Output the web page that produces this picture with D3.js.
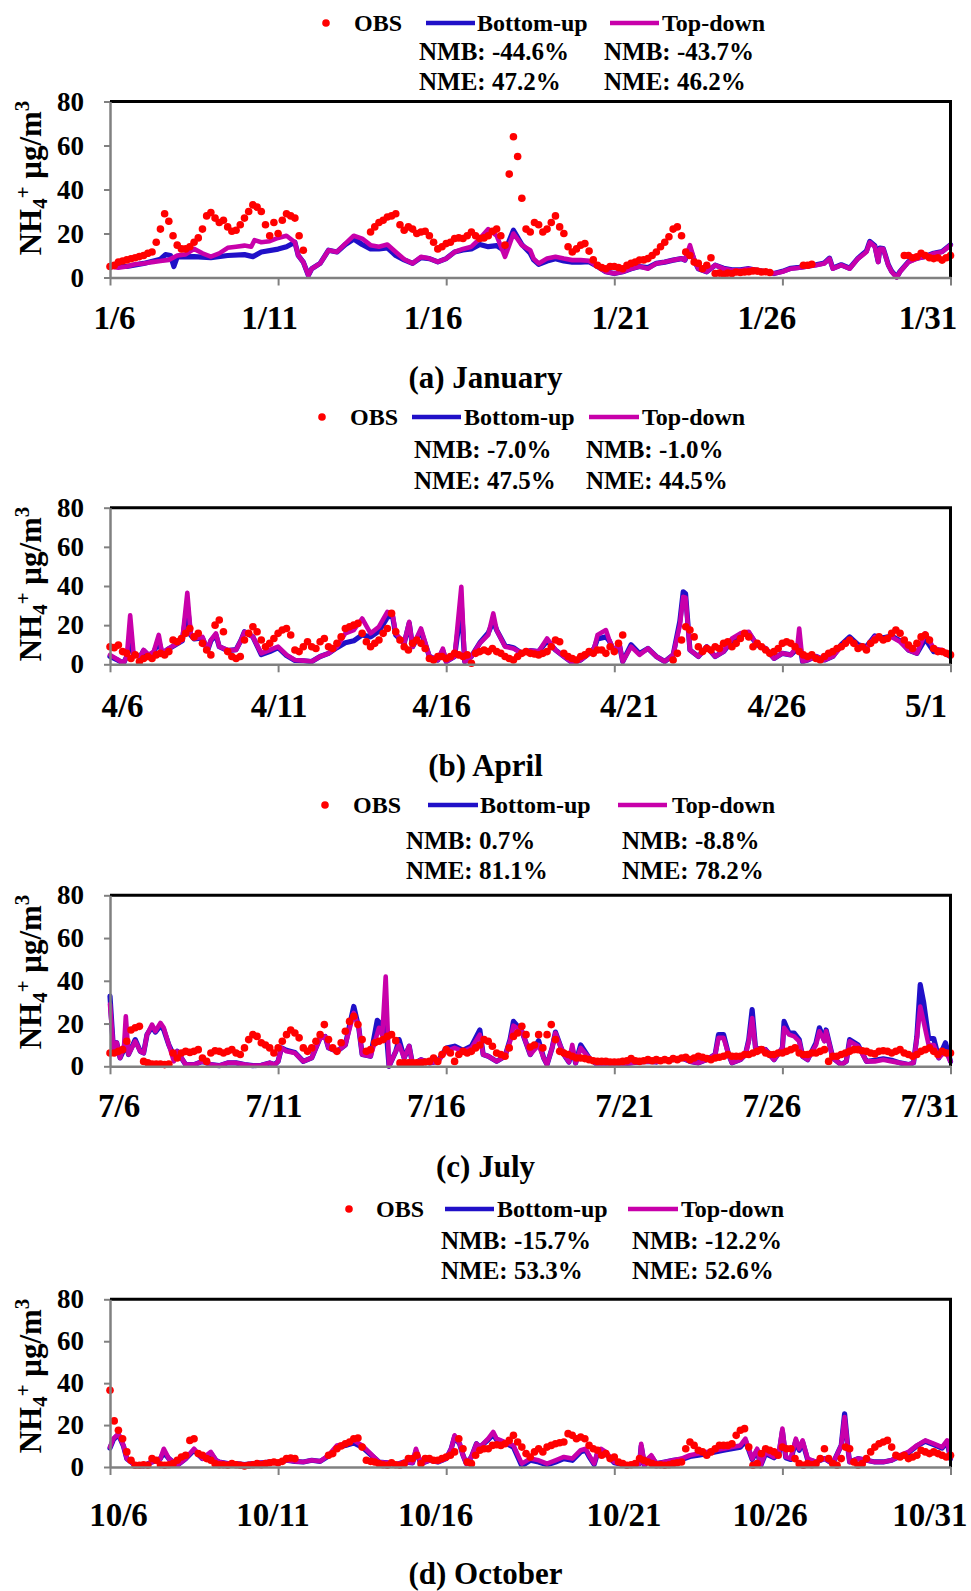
<!DOCTYPE html>
<html><head><meta charset="utf-8">
<script src="https://cdn.jsdelivr.net/npm/d3@7"></script>
<style>
body{margin:0;background:#fff}
svg text{font-family:"Liberation Serif","Times New Roman",serif;font-weight:bold;fill:#000}
</style>
</head><body>
<svg id="c" width="971" height="1591"></svg>
<script>
// ---------------- DATA ----------------
const yTicks = [0, 20, 40, 60, 80];
const dayTicks = [0, 5, 10, 15, 20, 25];        // days after the 6th
const janLabels = ["1/6","1/11","1/16","1/21","1/26","1/31"];
const aprLabels = ["4/6","4/11","4/16","4/21","4/26","5/1"];
const julLabels = ["7/6","7/11","7/16","7/21","7/26","7/31"];
const octLabels = ["10/6","10/11","10/16","10/21","10/26","10/31"];
const legendNames = ["OBS", "Bottom-up", "Top-down"];
const janStats = ["NMB: -44.6%","NME: 47.2%","NMB: -43.7%","NME: 46.2%"];
const aprStats = ["NMB: -7.0%","NME: 47.5%","NMB: -1.0%","NME: 44.5%"];
const julStats = ["NMB: 0.7%","NME: 81.1%","NMB: -8.8%","NME: 78.2%"];
const octStats = ["NMB: -15.7%","NME: 53.3%","NMB: -12.2%","NME: 52.6%"];
const captions = ["(a) January","(b) April","(c) July","(d) October"];

// OBS: one value every 3 hours from the 6th 00:00 (null = missing)
const _ = null;
const janObs = [5,5.5,7,7.5,8,8.5,9,9.5,10,11, 11.6,16,22,29,25.6,19,14.7,13,13,14,
 16,18,22,28,29.5,27,25,26,23,21, 21.5,24,27,30,33,32,30,24,19,25,
 20,26,29,28,27,19,12.4,_,_,_, _,_,_,_,_,_,_,_,_,_,
 _,_,20.7,23,25,26,27.5,28,29,24, 21.5,23,22,20,20.7,21,19,16,13,14,
 15.4,16,17.7,18,17.7,19,20.7,19,17.7,18, 19,21,22,19,14.7,47,64,55,36,22,
 20.7,25,24,20.7,22,25,28,23,20,14, 11.6,13,14.7,15.4,12,8,5.6,4.5,4,5,
 5,4.5,4,5.5,6.4,7,7.9,8,8.6,10, 11.6,14,16,18.5,22,23,19,11.6,10,7,
 6.4,4,5.6,9,1.8,2,1.5,2,1.8,2.5, 2.3,2.5,2.6,3,2.9,2.5,2.6,2.3,_,_,
 _,_,_,_,_,5.6,5.6,6,_,_, _,_,_,_,_,_,_,_,_,_,
 _,_,_,_,_,_,_,_,_,10, 10,9,9.4,11,10,9,8.6,9,7.9,9, 10];
const aprObs = [9,8.5,9.8,6.5,5.6,3,4.8,1.4,3,4, 3,4.8,5.6,4.8,6.5,12.4,11.5,13.2,15.8,18.3,
 14,15.8,10.7,7.3,4.8,20,22.6,16.6,6.5,4, 3,4,12.4,15.8,19.2,16.6,12.4,9,10.7,13.2,
 15.8,17.5,18.3,15,7.3,6.5,9,11.5,9,8.1, 11.5,13.2,9,8.1,10.7,14,18.3,19.2,20,20.9,
 15.8,11.5,9,10.7,12.4,15.8,18.3,26,16.6,12.4, 9,7.3,10.7,12.4,10.7,8.1,3,2.2,4,4,
 3,4,5.6,4.8,4,4.8,0.5,5.6,6.5,7.3, 6.5,8.1,6.5,5.6,4,3,2.2,4,5.6,6.5,
 5.6,5.3,4.8,5.6,6.5,9,12.4,11.5,5.6,4, 3,2.2,4,4.8,6.5,5.6,7.3,7.3,5.6,9,
 6.5,10.7,15,_,_,_,_,_,_,_, _,_,_,_,2.2,5.6,12.4,19.2,17.5,14,
 9,6.5,8.1,7.3,9,8.1,10.7,11.5,9,10.7, 13.2,15.8,14,9,10.7,9,7.3,5.6,6.5,8.1,
 10.7,11.5,10.7,9,6.5,4.8,4,4.8,3,2.2, 4,5.6,6.5,8.1,9,10.7,12.4,10.7,8.1,9,
 7.3,10.7,12.4,14,12.4,13.2,15.8,17.5,15.8,12.4, 9.8,8.1,10.7,14,15,12.4,8.1,6.5,6.5,5.6, 4.8];
const julObs = [6.2,6.2,7,7.8,11.7,17,18,18.7,2.3,1.6, 1.1,1.1,1.1,0.8,1,6.2,3.9,6.2,7,6.5,
 7,7.8,3.9,2.3,6.2,7.3,7,6.2,7,7.8, 6.2,5.5,8.6,12.5,14.8,14,11,10,8.6,6.2,
 8.6,11.7,14.8,17,15.6,13.3,8.6,7,8.6,11.7, 14.8,19.5,12.5,8.6,7,11,16.4,21,23.4,19.5,
 12.5,7,7.8,11,11.7,12.5,14,14.8,12,1.6, 1.6,1.6,1.6,1.6,1.6,2,2.3,3.9,2.3,5.5,
 7.8,6.2,2.3,5.5,7,6.2,7,8.6,10,12.5, 11.7,9.4,6.2,5.5,4.7,8.6,14,15.6,18.7,14.8,
 9,10,14.8,8.6,14.8,19.5,12.5,7,6.2,5.5, 4.7,3.9,3.9,3.6,3.1,2.6,2.3,2.3,2.3,2,
 2,2,2.3,2.6,3.6,2.6,2.3,2.6,3.1,2.6, 3.1,2.6,3.1,2.6,3.6,3.1,3.9,4.2,3.1,3.9,
 4.7,4.2,3.6,3.1,3.9,4.2,4.7,5.5,4.7,4.7, 4.7,5.5,5.5,6.2,7,7.8,6.2,5.5,5.5,6.2,
 6.2,7,7.8,8.6,6.2,5.5,5.5,6.2,6.2,7, 7.8,2.3,4.7,4.7,5.5,6.2,7,7.8,7.8,7.3,
 7,6.2,5.8,7,7.3,7,6.2,7,7.8,6.2, 5.5,4.7,5.5,7,7.8,8.6,7,5.5,7,6.2, 6.2];
const octObs = [36.6,22,17.5,13.5,7.2,3.2,0.8,0.8,1.1,0.8, 4,3.2,1.1,0.8,1.1,1.6,3.2,4.8,5.6,12.7,
 13.5,6.4,5.6,4,3.2,1.6,1.1,1.1,0.8,1.6, 1.1,0.8,0.5,0.8,1.1,1.6,1.1,1.6,2,2.4,
 2,2.7,4,4.3,4,_,_,_,_,_, _,_,5.6,6.4,8.7,10,11.1,11.9,13.5,13.8,
 9.5,3.2,2.7,2.4,1.6,1.1,0.8,2,1.1,0.8, 1.6,4,4,5.6,1.6,4,4,3.2,3.2,4,
 4.8,5.6,7.2,13.5,8.7,2.4,1.6,5.6,8,8.7, 8.7,10.3,10.6,10.3,11.1,12.7,15.1,11.9,9.5,6.4,
 4.8,7.2,8.7,7.2,9.5,10.3,11.1,11.6,11.9,15.9, 15.1,13.5,14.3,13.5,10.3,8.7,8,5.6,6.4,4,
 4.8,2.4,1.6,0.8,1.1,1.6,4,3.2,2.4,1.6, 1.1,1.1,0.8,1.1,1.6,2,2.4,8.7,11.9,10.3,
 8,7.2,5.6,7.2,8.7,10.3,10.3,10.3,11.1,15.1, 17.5,18.3,9.5,0.8,1.6,6.4,8.7,8,7.2,5.6,
 9.5,8.7,8.7,4,1.6,0.8,1.6,1.1,1.6,4, 8.7,4,1.6,0.8,4,9.5,8.7,2.4,0.8,1.6,
 4,7.2,9.5,11.1,11.9,12.7,9.5,5.6,4.8,5.6, 4,4.8,5.6,8,7.2,6.4,7.2,6.4,5.6,4.8, 5.6];

// Model series: [day after the 6th, value]
const janTD = [[0,5],[0.25,4.4],[0.5,5],[0.75,6],[1,6.4],[1.25,7],[1.5,7.5],[1.75,8],[2,10],[2.25,10.5],[2.5,13],[2.75,11],[3,9.5],[3.25,11],[3.5,13.5],[3.75,14],[4,14.5],[4.2,14],[4.3,17],[4.5,16],[4.75,16.5],[5,18],[5.25,19],[5.5,16],[5.6,10],[5.75,7],[5.9,1],[6,4],[6.25,6.4],[6.5,12.4],[6.75,11.6],[7,15.4],[7.25,19],[7.5,17.7],[7.75,14.7],[8,14],[8.25,15],[8.5,11.6],[8.75,8.3],[9,6.4],[9.25,9.4],[9.5,8.6],[9.75,7.1],[10,8.6],[10.25,11.6],[10.5,13],[10.75,14],[11,17.7],[11.25,22],[11.5,19],[11.75,9.4],[12,20],[12.25,14.7],[12.5,12.4],[12.6,8.6],[12.75,6.4],[13,8.6],[13.25,9.4],[13.5,8.6],[13.75,7.9],[14,7.9],[14.25,7.6],[14.5,5],[14.75,2.6],[15,1.8],[15.25,2.6],[15.5,4],[15.75,5],[16,4],[16.25,6.4],[16.5,7],[16.75,7.9],[17,8.6],[17.1,7.9],[17.25,14.7],[17.4,7],[17.5,4],[17.75,2.6],[18,5.6],[18.25,4],[18.5,3.3],[18.75,3.3],[19,4],[19.25,3.3],[19.5,2.6],[19.75,1.8],[20,2.6],[20.25,4],[20.5,4.4],[20.75,5],[21,5.6],[21.25,6.4],[21.4,8.6],[21.5,4],[21.75,5.6],[22,4],[22.25,8.6],[22.5,11.6],[22.6,16],[22.75,14],[22.85,7],[22.9,13],[23,13],[23.15,5.6],[23.25,2.6],[23.4,0],[23.5,2.6],[23.75,7],[24,8.6],[24.25,9.4],[24.5,10.9],[24.75,11.6],[25,14.7]];
const janBU = [[0,5],[0.5,5],[1,6.4],[1.5,8.3],[1.65,10.4],[1.8,10],[1.9,5],[2,9.4],[2.5,9.5],[3,9],[3.5,10],[4,10.4],[4.25,9.5],[4.5,11.6],[5,12.9],[5.25,14],[5.5,16],[5.6,10],[5.75,7],[5.9,1],[6,4],[6.25,6.4],[6.5,12.4],[6.75,11.6],[7,15],[7.25,17.5],[7.5,15],[7.75,13],[8,13],[8.25,13.5],[8.5,10],[8.75,8],[9,6.4],[9.25,9],[9.5,8.6],[9.75,7.1],[10,8.6],[10.25,11.6],[10.5,12.5],[10.75,13],[11,15],[11.25,14],[11.5,14.5],[11.75,12],[12,21.5],[12.25,15],[12.5,11],[12.6,8],[12.75,6],[13,7.5],[13.25,8.5],[13.5,7.5],[13.75,7],[14,7],[14.25,7.2],[14.5,5],[14.75,2.6],[15,1.8],[15.25,2.6],[15.5,4],[15.75,5],[16,4.5],[16.25,6.4],[16.5,7],[16.75,7.9],[17,8.6],[17.1,7.9],[17.25,13],[17.4,7],[17.5,4],[17.75,2.6],[18,5.6],[18.25,4.2],[18.5,3.5],[18.75,3.5],[19,4],[19.25,3.3],[19.5,2.6],[19.75,1.8],[20,2.8],[20.25,4.2],[20.5,4.6],[20.75,5.2],[21,5.8],[21.25,6.6],[21.4,8.8],[21.5,4.2],[21.75,5.8],[22,4.2],[22.25,8.8],[22.5,12],[22.6,16.4],[22.75,14.4],[22.85,7.2],[22.9,13.4],[23,13.2],[23.15,5.8],[23.25,2.8],[23.4,0.2],[23.5,2.8],[23.75,7.2],[24,8.8],[24.25,9.6],[24.5,11],[24.75,11.8],[25,14.9]];
const aprTD = [[0,4.8],[0.25,2.2],[0.4,0.5],[0.5,4],[0.6,25],[0.7,5.6],[0.9,4],[1,7.3],[1.15,4.8],[1.3,6.5],[1.45,15],[1.55,5.6],[1.75,8.1],[2,10.7],[2.15,12.4],[2.3,36.5],[2.4,15.8],[2.5,13.2],[2.75,14],[2.9,7.3],[3,12.4],[3.15,15.8],[3.25,9],[3.5,7.3],[3.75,7.3],[3.9,12.4],[4,16.6],[4.25,14],[4.5,5.6],[4.75,7.3],[5,9],[5.25,4.8],[5.5,2.2],[5.75,1.9],[6,1.4],[6.25,4],[6.5,5.6],[6.75,9],[7,15.8],[7.25,17.5],[7.5,23.4],[7.75,15.8],[8,19.2],[8.25,26.8],[8.4,26],[8.5,15.8],[8.75,10.7],[8.9,21.7],[9,9],[9.25,18.3],[9.5,4],[9.75,2.2],[9.9,8],[10,1.4],[10.25,4],[10.45,39.6],[10.55,1.4],[10.75,4],[11,10.7],[11.25,15],[11.4,26],[11.5,17.5],[11.75,9],[12,8.1],[12.25,5.6],[12.5,7],[12.75,6.5],[13,13.2],[13.25,7.3],[13.5,4],[13.75,0.8],[14,2.2],[14.25,5.6],[14.4,8.1],[14.5,15],[14.75,17.5],[14.85,12.4],[15,6.5],[15.15,10.7],[15.25,1.4],[15.5,9],[15.75,4.8],[16,8.1],[16.25,4],[16.5,1.4],[16.75,4.8],[16.95,20],[17.05,34.5],[17.12,34],[17.25,7.3],[17.5,4],[17.75,9],[18,4],[18.25,6.5],[18.5,13.2],[18.75,15.8],[19,16.6],[19.25,9.8],[19.5,8.1],[19.75,3],[20,5.6],[20.25,4.8],[20.45,10],[20.5,18.3],[20.6,1.4],[20.75,2.2],[21,4],[21.25,2.2],[21.5,4],[21.75,9],[22,12.4],[22.25,9],[22.5,8.1],[22.75,14],[23,12.4],[23.25,14],[23.5,11.5],[23.75,7.3],[24,5.6],[24.25,15.8],[24.5,8.1],[24.75,7.3],[25,4.8]];
const aprBU = [[0,4],[0.25,2],[0.4,0.5],[0.5,4],[0.6,12],[0.7,5],[0.9,4],[1,7],[1.15,4.5],[1.3,6],[1.45,12],[1.55,5.6],[1.75,8],[2,10.5],[2.15,12],[2.3,30],[2.4,15],[2.5,13],[2.75,13.5],[2.9,7],[3,12],[3.15,15],[3.25,9],[3.5,7],[3.75,7.5],[3.9,12.4],[4,16.6],[4.25,14],[4.5,5],[4.75,6.5],[5,8.5],[5.25,4.5],[5.5,2],[5.75,1.8],[6,1.4],[6.25,4],[6.5,5.6],[6.75,8.5],[7,11],[7.25,12],[7.5,15],[7.75,14],[8,17],[8.25,24],[8.4,25],[8.5,15],[8.75,10.7],[8.9,21],[9,9],[9.25,17],[9.5,4],[9.75,2.2],[9.9,7],[10,1.4],[10.25,4],[10.45,30],[10.55,1.4],[10.75,4],[11,11],[11.25,16],[11.4,22],[11.5,17.5],[11.75,9.5],[12,8.5],[12.25,5.6],[12.5,7],[12.75,6.5],[13,12],[13.25,7.3],[13.5,4],[13.75,0.8],[14,2.2],[14.25,5.6],[14.4,8.1],[14.5,13],[14.75,14],[14.85,12],[15,6.5],[15.15,10],[15.25,1.4],[15.5,10],[15.75,5.5],[16,8.1],[16.25,4],[16.5,1.4],[16.75,4.8],[16.95,22],[17.05,37],[17.12,36],[17.25,7.3],[17.5,4],[17.75,9],[18,4],[18.25,6.5],[18.5,12],[18.75,15],[19,16],[19.25,9.8],[19.5,8.1],[19.75,3],[20,5.6],[20.25,4.8],[20.45,8],[20.5,12],[20.6,1.4],[20.75,2.2],[21,4],[21.25,2.2],[21.5,4],[21.75,10],[22,14],[22.25,10],[22.5,9],[22.75,14.5],[23,13.5],[23.25,14.5],[23.5,12],[23.75,7.3],[24,5.6],[24.25,13],[24.5,6.5],[24.75,6.5],[25,4]];
const julTD = [[0,29],[0.1,8.6],[0.2,11],[0.3,3.9],[0.42,10],[0.47,23.4],[0.55,5.5],[0.75,11.7],[0.9,7],[1,6.2],[1.1,14.8],[1.25,19.5],[1.35,16.4],[1.5,20.3],[1.6,18],[1.75,10],[1.9,2.3],[2,7],[2.25,0.8],[2.5,0.8],[2.75,2.3],[3,0.8],[3.25,0.3],[3.5,1.6],[3.75,1.6],[4,0.8],[4.25,0.3],[4.5,0.5],[4.75,1.6],[4.9,0.8],[5,2.3],[5.1,8.6],[5.25,7],[5.5,6.2],[5.75,2.3],[6,3.9],[6.25,13.3],[6.4,14],[6.5,8.6],[6.75,7],[7,10],[7.25,25],[7.4,18],[7.5,5.5],[7.75,4.7],[8,18],[8.1,14.8],[8.2,42],[8.3,0],[8.5,7],[8.6,10],[8.75,3.9],[8.9,9.4],[9,0.8],[9.25,3.1],[9.5,1.6],[9.75,2.3],[10,7],[10.25,8.6],[10.5,7],[10.75,8.6],[11,14.8],[11.1,5.5],[11.25,4.7],[11.5,2.3],[11.75,4.7],[11.9,11.7],[12,19],[12.25,16.4],[12.5,5.5],[12.75,10],[12.9,3.9],[13,0.8],[13.15,8.6],[13.25,15.6],[13.4,9.4],[13.5,5.5],[13.65,2],[13.75,10],[13.85,1.5],[14,8.6],[14.25,3.9],[14.5,0.8],[14.75,0.5],[15,0.8],[15.25,1.1],[15.5,1.6],[15.75,2],[16,2.3],[16.25,2],[16.5,3.1],[16.75,3.1],[17,3.9],[17.25,2.3],[17.5,1.6],[17.75,3.1],[18,5.5],[18.1,13.3],[18.25,13.3],[18.4,5.5],[18.5,1.6],[18.75,3.1],[18.9,5.5],[19,11.7],[19.1,22.6],[19.2,8.6],[19.5,7.8],[19.75,3.1],[20,8.6],[20.05,18],[20.2,14.8],[20.35,14],[20.5,11.7],[20.6,4.7],[20.75,3.1],[21,10],[21.1,16.4],[21.25,11.7],[21.3,16.4],[21.5,3.9],[21.75,0.8],[21.9,2.3],[22,11.7],[22.25,9.4],[22.5,2.3],[22.75,2.3],[23,3.1],[23.25,2.3],[23.5,1.6],[23.75,0.8],[23.9,1.6],[24,13.3],[24.1,28],[24.2,21],[24.35,10],[24.5,10],[24.65,3.9],[24.85,7],[25,2.3]];
const julBU = [[0,32.8],[0.1,8.6],[0.2,11],[0.3,3.9],[0.42,8],[0.47,12],[0.55,5.5],[0.75,12.5],[0.9,7],[1,6.2],[1.1,14.8],[1.25,18.5],[1.35,16],[1.5,19],[1.6,17],[1.75,10],[1.9,5],[2,7],[2.25,0.8],[2.5,0.8],[2.75,2.3],[3,0.8],[3.25,0.3],[3.5,1.6],[3.75,1.6],[4,0.8],[4.25,0.3],[4.5,0.5],[4.75,1.6],[4.9,0.8],[5,2.3],[5.1,8.6],[5.25,7.5],[5.5,6.5],[5.75,2.3],[6,3.9],[6.25,13.3],[6.4,14],[6.5,8.6],[6.75,7],[7,10],[7.25,28],[7.4,18],[7.5,5.5],[7.75,4.7],[7.95,21.5],[8.05,20],[8.1,14.8],[8.2,20],[8.3,0],[8.5,7],[8.6,12.5],[8.75,3.9],[8.9,9.4],[9,0.8],[9.25,3.1],[9.5,1.6],[9.75,2.3],[10,8.5],[10.25,9.4],[10.5,7.5],[10.75,9.4],[11,17],[11.1,5.5],[11.25,4.7],[11.5,2.3],[11.75,4.7],[11.9,12.5],[12,21],[12.25,16.4],[12.5,5.5],[12.75,12],[12.9,3.9],[13,0.8],[13.15,8.6],[13.25,16],[13.4,9.4],[13.5,5.5],[13.65,2],[13.75,8],[13.85,1.5],[14,10],[14.25,3.9],[14.5,0.8],[14.75,0.5],[15,0.8],[15.25,1.1],[15.5,1.6],[15.75,2],[16,2.3],[16.25,2],[16.5,3.1],[16.75,3.1],[17,3.9],[17.25,2.3],[17.5,1.6],[17.75,3.1],[18,5.5],[18.1,14.8],[18.25,14.8],[18.4,5.5],[18.5,1.6],[18.75,3.1],[18.9,5.5],[19,12.5],[19.1,26.5],[19.2,8.6],[19.5,7.8],[19.75,3.1],[20,8.6],[20.05,21],[20.2,15.5],[20.35,15.5],[20.5,12.5],[20.6,4.7],[20.75,3.1],[21,11],[21.1,18],[21.25,12],[21.3,17],[21.5,3.9],[21.75,0.8],[21.9,2.3],[22,12.5],[22.25,10],[22.5,2.3],[22.75,2.8],[23,3.5],[23.25,2.8],[23.5,1.6],[23.75,0.8],[23.9,1.6],[24,14],[24.1,38.2],[24.2,30],[24.35,13],[24.5,13],[24.65,3.9],[24.85,11],[25,2.3]];
const octTD = [[0,9.5],[0.1,13.5],[0.25,15.9],[0.4,10.3],[0.5,4],[0.75,0.8],[1,0.5],[1.25,2.4],[1.5,4],[1.6,8.7],[1.75,4],[2,0.8],[2.25,4],[2.5,8.7],[2.75,4],[3,7.2],[3.15,3.2],[3.25,2.4],[3.5,1.6],[3.75,1.6],[4,1.1],[4.25,1.6],[4.5,2],[4.75,2.4],[5,2],[5.25,3.2],[5.5,2.7],[5.75,2.4],[6,3.2],[6.25,2.7],[6.5,5.6],[6.75,10.3],[7,11.1],[7.25,12.7],[7.5,10.3],[7.75,6.4],[8,2.4],[8.25,2],[8.5,1.1],[8.75,2.4],[9,2],[9.1,8.7],[9.25,1.6],[9.5,3.2],[9.75,2.4],[10,4],[10.15,8.7],[10.25,15.1],[10.4,11.1],[10.5,5.6],[10.6,1.6],[10.75,4.8],[10.9,11.1],[11,9.5],[11.25,13.5],[11.4,16.7],[11.5,13.5],[11.75,11.9],[12,10.3],[12.25,1.6],[12.5,4],[12.75,3.2],[13,1.6],[13.25,3.2],[13.5,4.8],[13.75,4],[14,8],[14.15,8.7],[14.25,5.6],[14.4,1.6],[14.5,7.2],[14.6,8.7],[14.75,7.2],[15,2.4],[15.25,1.6],[15.5,0.8],[15.75,1.6],[15.8,11.1],[15.9,0.8],[16,4],[16.1,5.6],[16.25,1.6],[16.5,2.4],[16.75,3.2],[17,4],[17.25,5.6],[17.5,6.4],[17.75,7.2],[18,8],[18.25,8.7],[18.5,9.5],[18.75,10.3],[18.9,13.5],[19,8.7],[19.1,4],[19.25,8.7],[19.35,0.8],[19.5,7.2],[19.75,4.8],[19.9,7.2],[20,18.3],[20.1,4.8],[20.25,4],[20.4,13.5],[20.5,8.7],[20.6,12.7],[20.75,4],[21,2.4],[21.25,4],[21.5,1.6],[21.75,10.3],[21.85,23.8],[21.95,8.7],[22,2.4],[22.25,4],[22.5,3.2],[22.75,2.4],[23,2.4],[23.25,3.2],[23.5,5.6],[23.75,7.2],[24,10.3],[24.25,12.7],[24.5,11.1],[24.75,9.5],[24.9,12.7],[25,4]];
const octBU = [[0,9],[0.1,13],[0.25,15.5],[0.4,10],[0.5,4],[0.75,0.8],[1,0.5],[1.25,2.4],[1.5,4],[1.6,7],[1.75,4],[2,0.8],[2.25,4],[2.5,8],[2.75,4],[3,6.5],[3.15,3.2],[3.25,2.4],[3.5,1.6],[3.75,1.6],[4,1.1],[4.25,1.6],[4.5,2],[4.75,2.4],[5,2],[5.25,3.2],[5.5,2.7],[5.75,2.4],[6,3.2],[6.25,2.7],[6.5,5.2],[6.75,9.5],[7,10.3],[7.25,11.5],[7.5,9.5],[7.75,6],[8,2.4],[8.25,2],[8.5,1.1],[8.75,2.4],[9,2],[9.1,7.5],[9.25,1.6],[9.5,3.2],[9.75,2.4],[10,4],[10.15,8.7],[10.25,14.5],[10.4,11],[10.5,5.6],[10.6,1.6],[10.75,4.8],[10.9,11.1],[11,9.5],[11.25,13],[11.4,15.5],[11.5,13],[11.75,11.5],[12,9.5],[12.25,0.5],[12.5,3.2],[12.75,2.4],[13,1],[13.25,2.4],[13.5,4],[13.75,3.2],[14,7.2],[14.15,8],[14.25,5],[14.4,1.2],[14.5,6.4],[14.6,8],[14.75,6.4],[15,2],[15.25,1.2],[15.5,0.8],[15.75,1.6],[15.8,10],[15.9,0.8],[16,3.6],[16.1,5],[16.25,1.6],[16.5,2.4],[16.75,3.2],[17,3.6],[17.25,5],[17.5,5.6],[17.75,6.4],[18,7.2],[18.25,8],[18.5,8.7],[18.75,9.5],[18.9,12.5],[19,8],[19.1,3.6],[19.25,8],[19.35,0.5],[19.5,6.4],[19.75,4.4],[19.9,6.4],[20,17],[20.1,4.4],[20.25,3.6],[20.4,12.5],[20.5,8],[20.6,12],[20.75,3.6],[21,2.4],[21.25,4],[21.5,1.6],[21.75,10.3],[21.85,25.4],[21.95,8.7],[22,2.4],[22.25,4],[22.5,3.2],[22.75,2.4],[23,2.4],[23.25,3.2],[23.5,5.2],[23.75,6.8],[24,10],[24.25,12.3],[24.5,10.7],[24.75,9],[24.9,12],[25,4]];

// ---------------- LAYOUT ----------------
const X0 = 110, X1 = 950.5;
const layout = [
 {top:101.5, bottom:277.5, legY:31, dotX:326, obsX:354, bu:[426,475], buT:477, td:[610,659], tdT:662, statY:[60,90], statX:[419,604], tickY:329, tickDx:[4,-9,-13.5,6,-16,-23], capY:388, titleCY:178},
 {top:507.7, bottom:664.3, legY:425, dotX:322, obsX:350, bu:[412,461], buT:464, td:[589,639], tdT:642, statY:[458,489], statX:[414,586], tickY:717, tickDx:[12,0.6,-5,14.5,-6,-25], capY:776, titleCY:584},
 {top:895.3, bottom:1066.3, legY:813, dotX:325, obsX:353, bu:[428,478], buT:480, td:[618,667], tdT:672, statY:[849,879], statX:[406,622], tickY:1117, tickDx:[8.6,-4.6,-10.4,9.8,-11,-21.2], capY:1177, titleCY:972},
 {top:1299.3, bottom:1467, legY:1217, dotX:349, obsX:376, bu:[445,494], buT:497, td:[628,678], tdT:681, statY:[1249,1279], statX:[441,632], tickY:1526, tickDx:[8,-5.6,-11,9.2,-12.7,-21.2], capY:1584, titleCY:1376}
];
const C_OBS = "#ff0000", C_BU = "#2010c8", C_TD = "#c800aa", C_AX = "#808080";

const panels = [
 {labels:janLabels, obs:janObs, bu:janBU, td:janTD, stats:janStats},
 {labels:aprLabels, obs:aprObs, bu:aprBU, td:aprTD, stats:aprStats},
 {labels:julLabels, obs:julObs, bu:julBU, td:julTD, stats:julStats},
 {labels:octLabels, obs:octObs, bu:octBU, td:octTD, stats:octStats}
];

const svg = d3.select("#c");
const x = d3.scaleLinear().domain([0, 25]).range([X0, X1]);

panels.forEach((p, k) => {
  const L = layout[k];
  const y = d3.scaleLinear().domain([0, 80]).range([L.bottom, L.top]);
  const g = svg.append("g");

  // legend
  const ly = L.legY - 8;
  g.append("circle").attr("cx", L.dotX).attr("cy", ly).attr("r", 3.8).attr("fill", C_OBS);
  g.append("text").attr("x", L.obsX).attr("y", L.legY).attr("font-size", 24).text(legendNames[0]);
  g.append("line").attr("x1", L.bu[0]).attr("x2", L.bu[1]).attr("y1", ly).attr("y2", ly)
    .attr("stroke", C_BU).attr("stroke-width", 4.5);
  g.append("text").attr("x", L.buT).attr("y", L.legY).attr("font-size", 24).text(legendNames[1]);
  g.append("line").attr("x1", L.td[0]).attr("x2", L.td[1]).attr("y1", ly).attr("y2", ly)
    .attr("stroke", C_TD).attr("stroke-width", 4.5);
  g.append("text").attr("x", L.tdT).attr("y", L.legY).attr("font-size", 24).text(legendNames[2]);
  // statistics
  [[0,0],[0,1],[1,0],[1,1]].forEach(([c, r], j) => {
    g.append("text").attr("x", L.statX[c]).attr("y", L.statY[r]).attr("font-size", 25).text(p.stats[j]);
  });

  // series
  const line = d3.line().x(d => x(d[0])).y(d => y(d[1]));
  g.append("path").datum(p.bu).attr("d", line).attr("fill", "none")
    .attr("stroke", C_BU).attr("stroke-width", 5.2).attr("stroke-linejoin", "round").attr("stroke-linecap", "round");
  g.append("path").datum(p.td).attr("d", line).attr("fill", "none")
    .attr("stroke", C_TD).attr("stroke-width", 4.6).attr("stroke-linejoin", "round").attr("stroke-linecap", "round");
  const pts = p.obs.map((v, i) => [i / 8, v]).filter(d => d[1] != null);
  g.append("g").selectAll("circle").data(pts).join("circle")
    .attr("cx", d => x(d[0])).attr("cy", d => y(d[1])).attr("r", 3.8).attr("fill", C_OBS);

  // frame (top + right, black)
  g.append("path").attr("d", `M${X0},${L.top}H${X1}V${L.bottom}`)
    .attr("fill", "none").attr("stroke", "#000").attr("stroke-width", 3);

  // y axis
  const gy = g.append("g").attr("transform", `translate(${X0},0)`)
    .call(d3.axisLeft(y).tickValues(yTicks).tickSize(6).tickSizeOuter(0).tickPadding(20));
  gy.select(".domain").attr("stroke", C_AX).attr("stroke-width", 2.5);
  gy.selectAll(".tick line").attr("stroke", C_AX).attr("stroke-width", 2);
  gy.selectAll(".tick text").attr("font-size", 27);

  // x axis
  const gx = g.append("g").attr("transform", `translate(0,${L.bottom})`)
    .call(d3.axisBottom(x).tickValues(dayTicks).tickFormat((d, i) => p.labels[i]).tickSize(8).tickSizeOuter(0));
  gx.select(".domain").attr("stroke", C_AX).attr("stroke-width", 2.5);
  gx.selectAll(".tick line").attr("stroke", C_AX).attr("stroke-width", 2);
  gx.selectAll(".tick text").attr("y", L.tickY - L.bottom).attr("dy", 0)
    .attr("dx", (d, i) => L.tickDx[i]).attr("font-size", 33);

  // y-axis title
  const t = g.append("text").attr("transform", `translate(41,${L.titleCY}) rotate(-90)`)
    .attr("text-anchor", "middle").attr("font-size", 31);
  t.append("tspan").text("NH");
  t.append("tspan").attr("font-size", 21).attr("dy", 6).text("4");
  t.append("tspan").attr("font-size", 21).attr("dy", -17).text("+");
  t.append("tspan").attr("dy", 11).text("\u00a0\u03bcg/m");
  t.append("tspan").attr("font-size", 21).attr("dy", -12).text("3");

  // caption
  g.append("text").attr("x", 485.5).attr("y", L.capY).attr("text-anchor", "middle")
    .attr("font-size", 31).text(captions[k]);
});
</script>
</body></html>
